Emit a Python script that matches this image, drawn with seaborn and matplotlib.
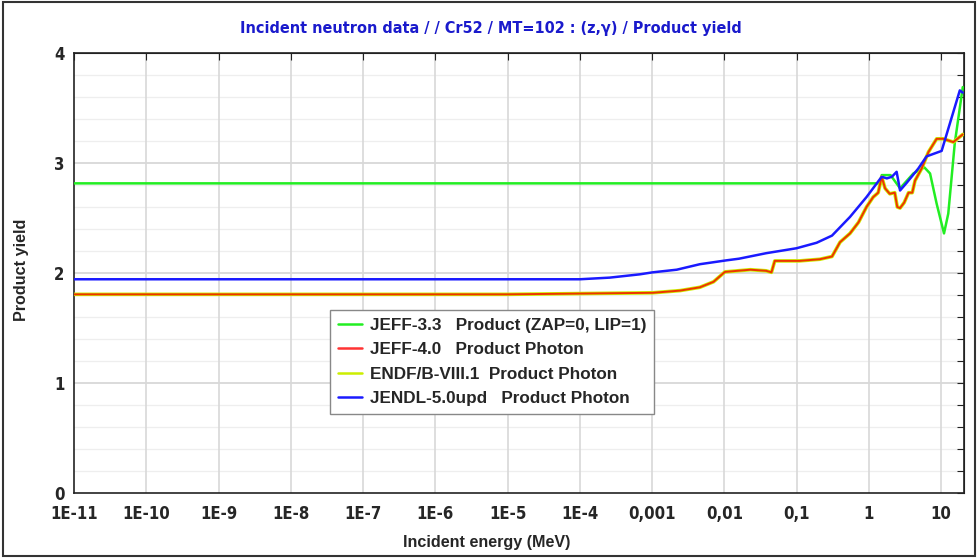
import matplotlib
matplotlib.use('Agg')
import matplotlib.pyplot as plt
import matplotlib.ticker as mticker
from matplotlib.lines import Line2D
from matplotlib.patches import Rectangle
import seaborn as sns
import numpy as np
import pandas as pd

# --- data (energy in MeV) ---
jeff33_e = [1e-11, 1.5, 1.51, 2.0, 2.71, 4.14, 5.88, 7.05, 8.7, 11.0, 12.6, 15.5, 20.0]
jeff33_y = [2.815, 2.815, 2.89, 2.89, 2.77, 2.905, 2.96, 2.905, 2.63, 2.36, 2.54, 3.18, 3.69]

photon_e = [1e-11, 1e-5, 1.02e-3, 2.45e-3, 4.6e-3, 7.1e-3, 1.02e-2, 2.3e-2, 3.8e-2, 4.5e-2, 5.0e-2,
            0.11, 0.21, 0.31, 0.40, 0.55, 0.72, 0.93, 1.15, 1.35, 1.51, 1.68, 1.95, 2.29,
            2.48, 2.71, 3.09, 3.55, 4.0, 4.37, 5.4, 6.7, 8.7, 10.7, 14.8, 20.0]
photon_y = [1.806, 1.806, 1.82, 1.84, 1.87, 1.92, 2.01, 2.03, 2.02, 2.006, 2.11,
            2.11, 2.125, 2.15, 2.28, 2.36, 2.46, 2.60, 2.69, 2.73, 2.875, 2.77, 2.72, 2.73,
            2.60, 2.59, 2.64, 2.73, 2.73, 2.84, 2.95, 3.10, 3.22, 3.22, 3.19, 3.26]

jendl_e = [1e-11, 1e-5, 1e-4, 2.6e-4, 6.8e-4, 1.02e-3, 2.2e-3, 4.6e-3, 1.07e-2, 1.6e-2, 3.8e-2,
           0.10, 0.19, 0.31, 0.55, 0.93, 1.51, 1.78, 2.09, 2.43, 2.71, 3.35, 4.85, 6.3, 10.2, 18.2, 20.0]
jendl_y = [1.943, 1.943, 1.943, 1.958, 1.988, 2.006, 2.03, 2.08, 2.115, 2.13, 2.18,
           2.225, 2.275, 2.34, 2.51, 2.69, 2.875, 2.86, 2.875, 2.92, 2.75, 2.82, 2.95, 3.06, 3.11, 3.66, 3.64]

labels = ['JEFF-3.3   Product (ZAP=0, LIP=1)', 'JEFF-4.0   Product Photon',
          'ENDF/B-VIII.1  Product Photon', 'JENDL-5.0upd   Product Photon']
colors = ['#22ee22', '#ff3333', '#ccee00', '#1a1aff']

x_ticks = [1e-11, 1e-10, 1e-9, 1e-8, 1e-7, 1e-6, 1e-5, 1e-4, 1e-3, 1e-2, 1e-1, 1, 10]
x_ticklabels = ['1E-11', '1E-10', '1E-9', '1E-8', '1E-7', '1E-6', '1E-5', '1E-4',
                '0,001', '0,01', '0,1', '1', '10']
y_ticks = [0, 1, 2, 3, 4]

sns.set_style('white')
plt.rcParams['font.family'] = ['Liberation Sans', 'DejaVu Sans']

fig = plt.figure(figsize=(9.78, 5.58), dpi=100)
ax = fig.add_axes([74 / 978, 65 / 558, 890 / 978, 440 / 558])

# grid
for yv in np.arange(0.2, 4.0, 0.2):
    major = abs(yv - round(yv)) < 1e-6
    ax.axhline(yv, color='#d4d4d4' if major else '#eeeeee', lw=1.2 if major else 0.9, zorder=0)
for xv in x_ticks[1:]:
    ax.axvline(xv, color='#d8d8d8', lw=1.2, zorder=0)

df_green = pd.DataFrame({'E': jeff33_e, 'y': jeff33_y})
df_phot = pd.DataFrame({'E': photon_e, 'y': photon_y})
df_blue = pd.DataFrame({'E': jendl_e, 'y': jendl_y})

sns.lineplot(data=df_green, x='E', y='y', ax=ax, color=colors[0], lw=1.8, sort=False, estimator=None, zorder=3)
sns.lineplot(data=df_phot, x='E', y='y', ax=ax, color=colors[2], lw=2.6, sort=False, estimator=None, zorder=3)
sns.lineplot(data=df_phot, x='E', y='y', ax=ax, color='#ee3300', lw=1.4, sort=False, estimator=None, zorder=4)
sns.lineplot(data=df_blue, x='E', y='y', ax=ax, color=colors[3], lw=1.8, sort=False, estimator=None, zorder=5)

ax.set_xscale('log')
ax.set_xlim(1e-11, 20.8)
ax.set_ylim(0, 4)
ax.xaxis.set_major_locator(mticker.FixedLocator(x_ticks))
ax.xaxis.set_minor_locator(mticker.NullLocator())
ax.set_xticks(x_ticks)
ax.set_xticklabels(x_ticklabels)
ax.set_yticks(y_ticks)
ax.set_yticklabels([str(v) for v in y_ticks])
ax.tick_params(axis='both', labelsize=12, length=5, width=1, color='#222222', direction='inout')
for lab in ax.get_xticklabels() + ax.get_yticklabels():
    lab.set_fontweight('bold')
    lab.set_family('DejaVu Sans')
    lab.set_fontstretch('condensed')
ax.tick_params(axis='x', pad=6)
ax.tick_params(axis='y', pad=3, direction='out', length=4)

# inner ticks on top and right
top = ax.secondary_xaxis('top')
top.set_xticks(x_ticks)
top.set_xticklabels([])
top.tick_params(direction='in', length=5, color='#222222')
right = ax.secondary_yaxis('right')
right.set_yticks(np.arange(0, 4.01, 0.2))
right.set_yticklabels([])
right.tick_params(direction='in', length=5, color='#222222')

for sp in ax.spines.values():
    sp.set_color('#222222')
    sp.set_linewidth(1.2)

ax.set_xlabel('Incident energy (MeV)', fontsize=11.6, fontweight='bold')
ax.xaxis.set_label_coords((487 - 74) / 890, -(543 - 493) / 440)
ax.xaxis.label.set_verticalalignment('center')
ax.set_ylabel('Product yield', fontsize=11.6, fontweight='bold')
ax.yaxis.set_label_coords(-(74 - 22) / 890, (493 - 270) / 440)
ax.yaxis.label.set_verticalalignment('center')
fig.text(491 / 978, 1 - 28 / 558, 'Incident neutron data / / Cr52 / MT=102 : (z,\u03b3) / Product yield',
         ha='center', va='center', fontsize=11.6, fontweight='bold', color='#1a1acc',
         family='DejaVu Sans', fontstretch='condensed')

handles = [Line2D([0], [0], color=c, lw=1.8) for c in colors]
leg = ax.legend(handles, labels, loc='upper left', bbox_to_anchor=((330 - 74) / 890, (493 - 310) / 440),
                frameon=True, fancybox=False, framealpha=1, edgecolor='#888888',
                prop={'weight': 'bold', 'size': 12.3}, handlelength=1.4, labelspacing=0.56,
                borderpad=0.45, handletextpad=0.5, borderaxespad=0)
leg.get_frame().set_linewidth(1.0)

fig.patches.append(Rectangle((0.003, 0.003), 0.994, 0.994, transform=fig.transFigure,
                             fill=False, edgecolor='#333333', lw=1.5))

fig.savefig('out.png', dpi=100)
